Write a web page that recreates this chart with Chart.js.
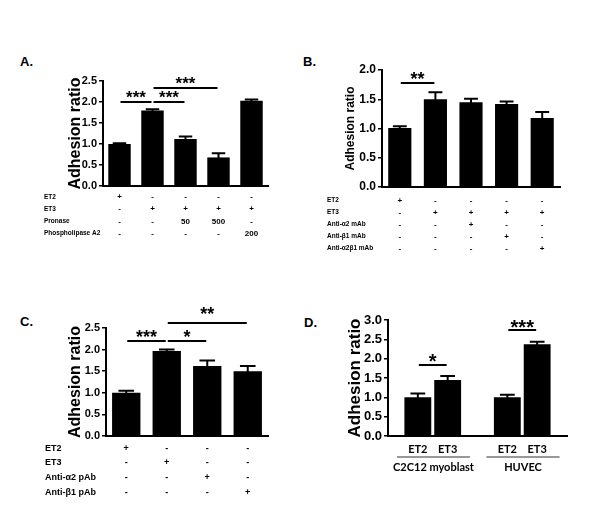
<!DOCTYPE html>
<html><head><meta charset="utf-8">
<script src="https://cdn.jsdelivr.net/npm/chart.js@4.4.0/dist/chart.umd.min.js"></script>
<style>
html,body{margin:0;padding:0;background:#fff;width:600px;height:526px;overflow:hidden;}
canvas{position:absolute;}
.pl{position:absolute;font:bold 13px "Liberation Sans",Arial,sans-serif;color:#000;}
</style></head>
<body>
<div class="pl" style="left:20px;top:54px">A.</div>
<div class="pl" style="left:303px;top:54px">B.</div>
<div class="pl" style="left:20px;top:314px">C.</div>
<div class="pl" style="left:304px;top:315px">D.</div>
<canvas id="cA" width="300" height="263" style="left:0;top:0"></canvas>
<canvas id="cB" width="300" height="263" style="left:300px;top:0"></canvas>
<canvas id="cC" width="300" height="263" style="left:0;top:263px"></canvas>
<canvas id="cD" width="300" height="263" style="left:300px;top:263px"></canvas>
<script>
// ---------- Panel A ----------
const catsA = ['ET2', 'ET3', 'ET3+Pronase 50', 'ET3+Pronase 500', 'ET3+PLA2 200'];
const valsA = [1.00, 1.80, 1.12, 0.68, 2.03];
const errsA = [0.02, 0.03, 0.06, 0.10, 0.03];
const ticksA = [0, 0.5, 1.0, 1.5, 2.0, 2.5];
const rowLabelsA = ['ET2', 'ET3', 'Pronase', 'Phospholipase A2'];
const rowsA = [
  ['+', '-', '-', '-', '-'],
  ['-', '+', '+', '+', '+'],
  ['-', '-', '50', '500', '-'],
  ['-', '-', '-', '-', '200']
];
const sigA = [[0, 1, 2.0, '***'], [1, 2, 2.0, '***'], [1, 3, 2.33, '***']];

// ---------- Panel B ----------
const catsB = ['ET2', 'ET3', 'ET3+Anti-α2', 'ET3+Anti-β1', 'ET3+Anti-α2β1'];
const valsB = [1.01, 1.50, 1.45, 1.42, 1.18];
const errsB = [0.03, 0.12, 0.06, 0.04, 0.10];
const ticksB = [0, 0.5, 1.0, 1.5, 2.0];
const rowLabelsB = ['ET2', 'ET3', 'Anti-α2 mAb', 'Anti-β1 mAb', 'Anti-α2β1 mAb'];
const rowsB = [
  ['+', '-', '-', '-', '-'],
  ['-', '+', '+', '+', '+'],
  ['-', '-', '+', '-', '-'],
  ['-', '-', '-', '+', '-'],
  ['-', '-', '-', '-', '+']
];
const sigB = [[0, 1, 1.77, '**']];

// ---------- Panel C ----------
const catsC = ['ET2', 'ET3', 'Anti-α2 pAb', 'Anti-β1 pAb'];
const valsC = [1.00, 1.97, 1.62, 1.50];
const errsC = [0.05, 0.03, 0.13, 0.12];
const ticksC = [0, 0.5, 1.0, 1.5, 2.0, 2.5];
const rowLabelsC = ['ET2', 'ET3', 'Anti-α2 pAb', 'Anti-β1 pAb'];
const rowsC = [
  ['+', '-', '-', '-'],
  ['-', '+', '-', '-'],
  ['-', '-', '+', '-'],
  ['-', '-', '-', '+']
];
const sigC = [[0, 1, 2.2, '***'], [1, 2, 2.2, '*'], [1, 3, 2.62, '**']];

// ---------- Panel D ----------
const catsD = ['', 'ET2', 'ET3', '', 'ET2', 'ET3', ''];
const valsD = [null, 1.00, 1.45, null, 1.00, 2.37, null];
const errsD = [null, 0.10, 0.10, null, 0.07, 0.07, null];
const ticksD = [0, 0.5, 1.0, 1.5, 2.0, 2.5, 3.0];
const groupsD = [['C2C12 myoblast', 1, 2], ['HUVEC', 4, 5]];
const sigD = [[1, 2, 1.83, '*'], [4, 5, 2.74, '***']];

const FONT = '"Liberation Sans", Arial, sans-serif';

const annot = {
  id: 'annot',
  afterDatasetsDraw(chart, args, o) {
    const ctx = chart.ctx, xs = chart.scales.x, ys = chart.scales.y;
    const meta = chart.getDatasetMeta(0);
    const data = chart.data.datasets[0].data;
    const ca = chart.chartArea;
    ctx.save();
    ctx.strokeStyle = '#000'; ctx.fillStyle = '#000';
    ctx.lineWidth = 2;
    // error bars (upper whisker)
    o.errs.forEach((e, i) => {
      if (e == null || data[i] == null) return;
      const bar = meta.data[i];
      const cx = bar.x;
      const y0 = ys.getPixelForValue(data[i]) + 1;
      const y1 = ys.getPixelForValue(data[i] + e);
      const w = bar.width * o.cap;
      ctx.beginPath();
      ctx.moveTo(cx, y0); ctx.lineTo(cx, y1);
      ctx.moveTo(cx - w / 2, y1); ctx.lineTo(cx + w / 2, y1);
      ctx.stroke();
    });
    // significance bars
    o.sig.forEach((s, k) => {
      const x1 = xs.getPixelForValue(s[0]) + 1;
      const x2 = xs.getPixelForValue(s[1]) - 1;
      const y = Math.round(ys.getPixelForValue(s[2]));
      ctx.lineWidth = 2;
      ctx.beginPath(); ctx.moveTo(x1, y); ctx.lineTo(x2, y); ctx.stroke();
      ctx.font = 'bold ' + o.starSize + 'px ' + FONT;
      ctx.textAlign = 'center'; ctx.textBaseline = 'alphabetic';
      const lift = (o.lift && o.lift[k]) || 8.5;
      ctx.fillText(s[3], (x1 + x2) / 2, y + 0.565 * o.starSize - lift);
    });
    // condition table
    if (o.rows) {
      o.rowLabels.forEach((lab, r) => {
        const y = ca.bottom + o.rowTop + r * o.rowGap;
        ctx.textBaseline = 'middle';
        ctx.textAlign = 'left';
        ctx.font = 'bold ' + o.labSize + 'px ' + FONT;
        ctx.fillText(lab, o.labX, y);
        ctx.textAlign = 'center';
        ctx.font = 'bold ' + o.symSize + 'px ' + FONT;
        o.rows[r].forEach((t, i) => ctx.fillText(t, xs.getPixelForValue(i), y));
      });
    }
    // group labels
    if (o.groups) {
      const slot = xs.getPixelForValue(1) - xs.getPixelForValue(0);
      o.groups.forEach(g => {
        const xa = xs.getPixelForValue(g[1]) - slot * 0.7;
        const xb = xs.getPixelForValue(g[2]) + slot * 0.75;
        const yl = ca.bottom + o.groupLineDy;
        ctx.strokeStyle = '#333'; ctx.lineWidth = 1.2;
        ctx.beginPath(); ctx.moveTo(xa, yl); ctx.lineTo(xb, yl); ctx.stroke();
        ctx.font = 'bold ' + o.groupSize + 'px Lato, "Open Sans", sans-serif';
        ctx.textAlign = 'center'; ctx.textBaseline = 'middle';
        ctx.fillText(g[0], (xa + xb) / 2, ca.bottom + o.groupTextDy);
      });
    }
    ctx.restore();
  }
};

function panel(id, cats, vals, tickVals, L, annotOpts, xExtra) {
  const ymax = tickVals[tickVals.length - 1];
  const xOpts = Object.assign({
    offset: true,
    grid: { display: false, drawTicks: false },
    border: { display: true, color: '#000', width: 2 },
    ticks: { display: false },
    afterFit: s => { s.height = L.xh; }
  }, xExtra || {});
  return new Chart(document.getElementById(id), {
    type: 'bar',
    data: { labels: cats, datasets: [{ data: vals, backgroundColor: '#000', borderWidth: 0,
      categoryPercentage: 1, barPercentage: L.bp }] },
    options: {
      responsive: false, animation: false, devicePixelRatio: 1,
      layout: { padding: { top: L.top, right: L.right, left: 0, bottom: 0 } },
      plugins: { legend: { display: false }, tooltip: { enabled: false }, annot: annotOpts },
      scales: {
        x: xOpts,
        y: {
          min: 0, max: ymax,
          afterBuildTicks: s => { s.ticks = tickVals.map(v => ({ value: v })); },
          ticks: { color: '#000', font: { family: FONT, weight: 'bold', size: L.tick },
            padding: 2, callback: v => Number(v).toFixed(1) },
          grid: { display: true, drawOnChartArea: false, drawTicks: true, tickLength: 4,
            color: '#000', lineWidth: 1.5 },
          border: { display: true, color: '#000', width: 2 },
          title: { display: true, text: 'Adhesion ratio', color: '#000',
            font: { family: FONT, weight: 'bold', size: L.title },
            padding: { top: L.titlePad, bottom: 0 } },
          afterFit: s => { s.width = L.left; }
        }
      }
    },
    plugins: [annot]
  });
}

panel('cA', catsA, valsA, ticksA,
  { left: 103, right: 32, top: 81, xh: 77, bp: 0.68, tick: 11, title: 16, titlePad: 66 },
  { errs: errsA, sig: sigA, cap: 0.6, starSize: 17,
    rows: rowsA, rowLabels: rowLabelsA, rowTop: 11, rowGap: 12.2, labX: 44, labSize: 6.5, symSize: 8 });

panel('cB', catsB, valsB, ticksB,
  { left: 82, right: 40, top: 70, xh: 76, bp: 0.65, tick: 12, title: 12, titlePad: 43 },
  { errs: errsB, sig: sigB, cap: 0.6, starSize: 18,
    rows: rowsB, rowLabels: rowLabelsB, rowTop: 13.3, rowGap: 12.1, labX: 27, labSize: 6.5, symSize: 8 });

panel('cC', catsC, valsC, ticksC,
  { left: 106, right: 32, top: 65, xh: 90, bp: 0.7, tick: 11, title: 16, titlePad: 66 },
  { errs: errsC, sig: sigC, cap: 0.55, starSize: 18, lift: [8.5, 8, 13],
    rows: rowsC, rowLabels: rowLabelsC, rowTop: 12.3, rowGap: 14.7, labX: 45, labSize: 9, symSize: 9 });

panel('cD', catsD, valsD, ticksD,
  { left: 88, right: 33, top: 57, xh: 90, bp: 0.9, tick: 13, title: 17, titlePad: 45 },
  { errs: errsD, sig: sigD, cap: 0.55, starSize: 20, lift: [8, 7],
    groups: groupsD, groupLineDy: 21, groupTextDy: 31, groupSize: 11 },
  { offset: false,
    ticks: { display: true, autoSkip: false, maxRotation: 0, color: '#000', padding: 7,
      font: { family: 'Lato, "Open Sans", sans-serif', weight: 'bold', size: 11 } } });
</script>
</body></html>
